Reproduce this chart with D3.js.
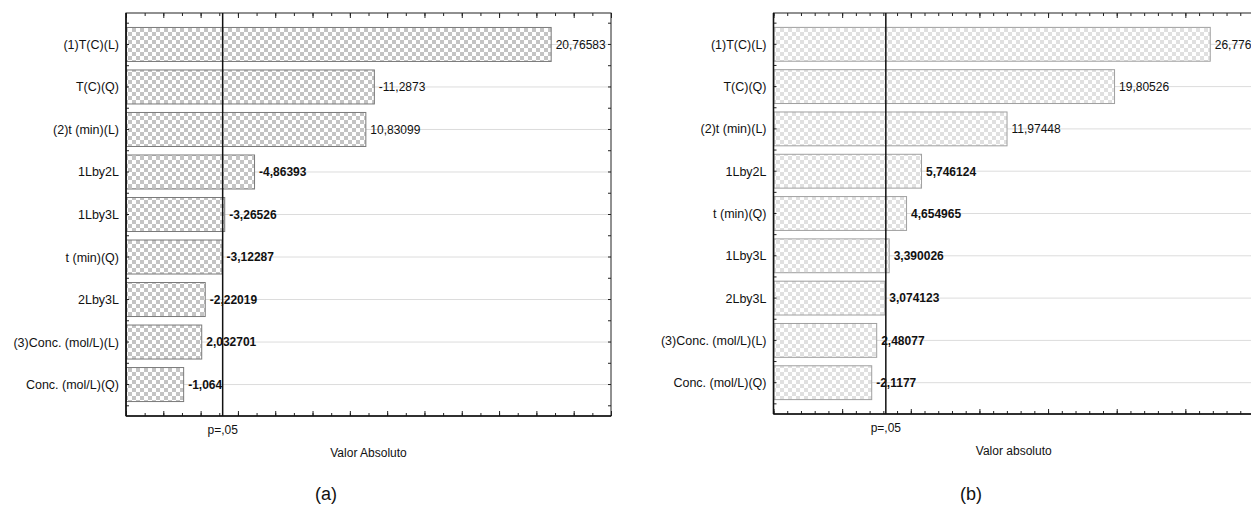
<!DOCTYPE html>
<html>
<head>
<meta charset="utf-8">
<script src="https://cdn.jsdelivr.net/npm/d3@7"></script>
<style>
  body { margin: 0; background: #fff; }
  svg { display: block; font-family: "Liberation Sans", Arial, sans-serif; }
</style>
</head>
<body>
<svg id="chart" width="1251" height="510"></svg>
<script>
// panel (a) effects
const termsA = ["(1)T(C)(L)", "T(C)(Q)", "(2)t (min)(L)", "1Lby2L", "1Lby3L",
                "t (min)(Q)", "2Lby3L", "(3)Conc. (mol/L)(L)", "Conc. (mol/L)(Q)"];
const valuesA = [20.76583, -11.2873, 10.83099, -4.86393, -3.26526,
                 -3.12287, -2.22019, 2.032701, -1.064];

// panel (b) effects
const termsB = ["(1)T(C)(L)", "T(C)(Q)", "(2)t (min)(L)", "1Lby2L", "t (min)(Q)",
                "1Lby3L", "2Lby3L", "(3)Conc. (mol/L)(L)", "Conc. (mol/L)(Q)"];
const valuesB = [26.77625, 19.80526, 11.97448, 5.746124, 4.654965,
                 3.390026, 3.074123, 2.48077, -2.1177];

const pCrit = 3.182;   // t critical, p=,05
const domainA = [-2, 24];
const domainB = [-5, 30];

const svg = d3.select("#chart");
const defs = svg.append("defs");

function checker(id, gray) {
  const p = defs.append("pattern")
    .attr("id", id)
    .attr("patternUnits", "userSpaceOnUse")
    .attr("width", 8).attr("height", 8);
  p.append("rect").attr("width", 8).attr("height", 8).attr("fill", "#fff");
  p.append("rect").attr("width", 4).attr("height", 4).attr("fill", gray);
  p.append("rect").attr("x", 4).attr("y", 4).attr("width", 4).attr("height", 4).attr("fill", gray);
}
checker("chkA", "#c4c4c4");
checker("chkB", "#e0e0e0");

function fmt(v) { return String(v).replace(".", ","); }

function drawPanel(o) {
  const x = d3.scaleLinear().domain(o.domain).range([o.left, o.right]);
  const y = d3.scaleBand().domain(o.terms).range([o.top, o.bottom])
    .paddingInner(0.2).paddingOuter(0.34);
  const g = svg.append("g");
  const data = o.terms.map((t, i) => ({ term: t, value: o.values[i], i: i }));

  // grid lines at category centres
  g.append("g").selectAll("line")
    .data(data).enter().append("line")
    .attr("x1", o.left).attr("x2", o.right)
    .attr("y1", d => y(d.term) + y.bandwidth() / 2)
    .attr("y2", d => y(d.term) + y.bandwidth() / 2)
    .attr("stroke", "#dcdcdc").attr("stroke-width", 1);

  // bars
  g.append("g").selectAll("rect")
    .data(data).enter().append("rect")
    .attr("x", x(o.domain[0]) + 0.5)
    .attr("y", d => y(d.term))
    .attr("width", d => x(Math.abs(d.value)) - x(o.domain[0]))
    .attr("height", y.bandwidth())
    .attr("fill", "url(#" + o.pattern + ")")
    .attr("stroke", o.outline).attr("stroke-width", 1);

  // axes ticks (no labels)
  const minor = d3.range(Math.ceil(o.domain[0]), o.domain[1] + 1, 1);
  const major = minor.filter(v => v % o.majorEvery === 0);
  const tickAxis = (axisFn, vals, size, ypos) =>
    g.append("g").attr("transform", "translate(0," + ypos + ")")
      .call(axisFn(x).tickValues(vals).tickSize(size).tickFormat(""))
      .call(s => s.select(".domain").remove())
      .call(s => s.selectAll("line").attr("stroke", "#222"));
  tickAxis(d3.axisBottom, minor, -3, o.bottom);
  tickAxis(d3.axisBottom, major, -5, o.bottom);
  tickAxis(d3.axisTop, minor, -3, o.top);
  tickAxis(d3.axisTop, major, -5, o.top);

  // y ticks: centres and band boundaries
  const yb = d3.range(o.terms.length + 1).map(k => y(o.terms[0]) - y.step() * y.paddingInner() / 2 + k * y.step());
  [o.left, o.right].forEach((xx, side) => {
    const dir = side === 0 ? 1 : -1;
    g.append("g").selectAll("line")
      .data(data.map(d => y(d.term) + y.bandwidth() / 2).concat(yb))
      .enter().append("line")
      .attr("x1", xx).attr("x2", xx + dir * 3)
      .attr("y1", d => d).attr("y2", d => d)
      .attr("stroke", "#222");
  });

  // frame
  g.append("rect")
    .attr("x", o.left).attr("y", o.top)
    .attr("width", o.right - o.left).attr("height", o.bottom - o.top)
    .attr("fill", "none").attr("stroke", "#222").attr("stroke-width", 1);
  g.append("line").attr("x1", o.left).attr("x2", o.left)
    .attr("y1", o.top).attr("y2", o.bottom)
    .attr("stroke", "#111").attr("stroke-width", 1.6);
  g.append("line").attr("x1", o.left).attr("x2", o.right)
    .attr("y1", o.bottom).attr("y2", o.bottom)
    .attr("stroke", "#111").attr("stroke-width", 1.6);

  // p=,05 line
  g.append("line")
    .attr("x1", x(pCrit)).attr("x2", x(pCrit))
    .attr("y1", o.top).attr("y2", o.bottom)
    .attr("stroke", "#111").attr("stroke-width", 1.5);

  // value labels
  g.append("g").selectAll("text")
    .data(data).enter().append("text")
    .attr("x", d => x(Math.abs(d.value)) + 5)
    .attr("y", d => y(d.term) + y.bandwidth() / 2)
    .attr("dy", "0.36em")
    .attr("font-size", 12)
    .attr("font-weight", d => d.i >= 3 ? "bold" : "normal")
    .attr("fill", "#111")
    .text(d => fmt(d.value));

  // category labels
  g.append("g").selectAll("text")
    .data(data).enter().append("text")
    .attr("x", o.left - 7)
    .attr("y", d => y(d.term) + y.bandwidth() / 2)
    .attr("dy", "0.36em")
    .attr("text-anchor", "end")
    .attr("font-size", 12.5)
    .attr("fill", "#111")
    .text(d => d.term);

  g.append("text")
    .attr("x", x(pCrit)).attr("y", o.bottom + 18)
    .attr("text-anchor", "middle").attr("font-size", 12).attr("fill", "#111")
    .text("p=,05");

  g.append("text")
    .attr("x", (o.left + Math.min(o.right, 1251 + 110)) / 2 + o.titleShift)
    .attr("y", o.bottom + 41)
    .attr("text-anchor", "middle").attr("font-size", 12).attr("fill", "#111")
    .text(o.xTitle);

  g.append("text")
    .attr("x", o.tagX).attr("y", 500)
    .attr("text-anchor", "middle").attr("font-size", 18).attr("fill", "#111")
    .text(o.tag);
}

drawPanel({
  terms: termsA, values: valuesA, domain: domainA, majorEvery: 2,
  left: 126, right: 611, top: 13, bottom: 416,
  pattern: "chkA", outline: "#7a7a7a",
  xTitle: "Valor Absoluto", titleShift: 0, tag: "(a)", tagX: 326
});
drawPanel({
  terms: termsB, values: valuesB, domain: domainB, majorEvery: 5,
  left: 773.5, right: 1254, top: 13, bottom: 414,
  pattern: "chkB", outline: "#a0a0a0",
  xTitle: "Valor absoluto", titleShift: 0, tag: "(b)", tagX: 971
});
</script>
</body>
</html>
